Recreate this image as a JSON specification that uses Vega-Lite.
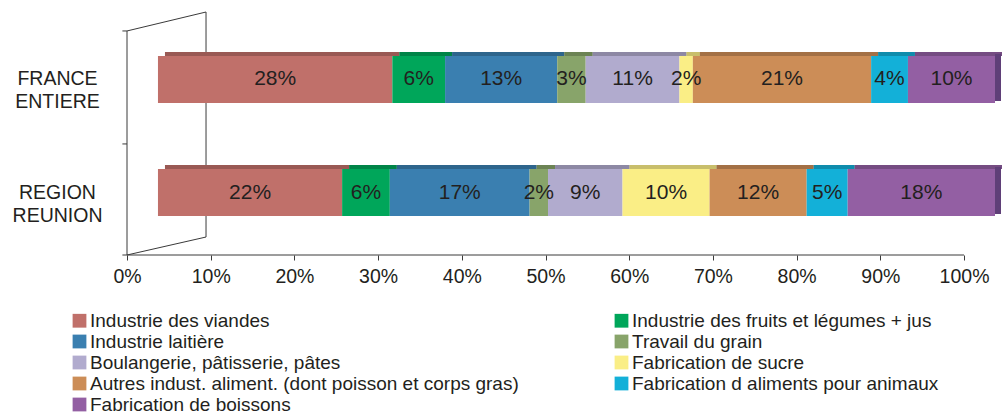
{
  "$schema": "https://vega.github.io/schema/vega-lite/v6.json",
  "width": 868,
  "height": 243,
  "autosize": {"type": "none"},
  "padding": {"left": 127, "top": 12, "right": 8, "bottom": 157},
  "config": {
    "font": "Liberation Sans",
    "view": {"stroke": null},
    "legend": {
      "orient": "none",
      "direction": "horizontal",
      "legendX": -57,
      "legendY": 299,
      "columns": 2,
      "columnPadding": 93,
      "rowPadding": 1,
      "symbolType": "square",
      "symbolSize": 190,
      "symbolStrokeWidth": 0,
      "symbolOpacity": 1,
      "labelFontSize": 19,
      "labelOffset": 1,
      "labelColor": "#231F20",
      "labelLimit": 700,
      "padding": 0
    }
  },
  "datasets": {
    "shares": [
      {"region": "FRANCE ENTIERE", "k": 1, "cat": "Industrie des viandes", "v": 0.280},
      {"region": "FRANCE ENTIERE", "k": 2, "cat": "Industrie des fruits et légumes + jus", "v": 0.063},
      {"region": "FRANCE ENTIERE", "k": 3, "cat": "Industrie laitière", "v": 0.134},
      {"region": "FRANCE ENTIERE", "k": 4, "cat": "Travail du grain", "v": 0.034},
      {"region": "FRANCE ENTIERE", "k": 5, "cat": "Boulangerie, pâtisserie, pâtes", "v": 0.112},
      {"region": "FRANCE ENTIERE", "k": 6, "cat": "Fabrication de sucre", "v": 0.016},
      {"region": "FRANCE ENTIERE", "k": 7, "cat": "Autres indust. aliment. (dont poisson et corps gras)", "v": 0.213},
      {"region": "FRANCE ENTIERE", "k": 8, "cat": "Fabrication d aliments pour animaux", "v": 0.044},
      {"region": "FRANCE ENTIERE", "k": 9, "cat": "Fabrication de boissons", "v": 0.104},
      {"region": "REGION REUNION", "k": 1, "cat": "Industrie des viandes", "v": 0.220},
      {"region": "REGION REUNION", "k": 2, "cat": "Industrie des fruits et légumes + jus", "v": 0.057},
      {"region": "REGION REUNION", "k": 3, "cat": "Industrie laitière", "v": 0.167},
      {"region": "REGION REUNION", "k": 4, "cat": "Travail du grain", "v": 0.022},
      {"region": "REGION REUNION", "k": 5, "cat": "Boulangerie, pâtisserie, pâtes", "v": 0.089},
      {"region": "REGION REUNION", "k": 6, "cat": "Fabrication de sucre", "v": 0.104},
      {"region": "REGION REUNION", "k": 7, "cat": "Autres indust. aliment. (dont poisson et corps gras)", "v": 0.116},
      {"region": "REGION REUNION", "k": 8, "cat": "Fabrication d aliments pour animaux", "v": 0.049},
      {"region": "REGION REUNION", "k": 9, "cat": "Fabrication de boissons", "v": 0.176}
    ],
    "wall": [
      {"x": 0, "y": 0, "x2": 0, "y2": 0.922},
      {"x": 0.0944, "y": 0.074, "x2": 0.0944, "y2": 1},
      {"x": 0, "y": 0.922, "x2": 0.0944, "y2": 1},
      {"x": 0, "y": 0, "x2": 0.0944, "y2": 0.074},
      {"x": 0, "y": 0, "x2": 1, "y2": 0},
      {"x": -0.0055, "y": 0.922, "x2": 0, "y2": 0.922},
      {"x": -0.0055, "y": 0.457, "x2": 0, "y2": 0.457},
      {"x": -0.0055, "y": 0, "x2": 0, "y2": 0}
    ]
  },
  "layer": [
    {
      "data": {"name": "wall"},
      "mark": {"type": "rule", "color": "#3a3a3a", "strokeWidth": 1},
      "encoding": {
        "x": {
          "field": "x", "type": "quantitative",
          "scale": {"domain": [0, 1.037], "nice": false, "zero": false},
          "axis": {
            "values": [0, 0.1, 0.2, 0.3, 0.4, 0.5, 0.6, 0.7, 0.8, 0.9, 1],
            "format": ".0%",
            "domain": false,
            "grid": false,
            "tickSize": 5,
            "tickColor": "#3a3a3a",
            "labelFontSize": 19.5,
            "labelColor": "#231F20",
            "labelPadding": 7,
            "labelFlush": false,
            "labelOverlap": false,
            "title": null
          }
        },
        "x2": {"field": "x2"},
        "y": {"field": "y", "type": "quantitative", "scale": {"domain": [0, 1], "nice": false}, "axis": null},
        "y2": {"field": "y2"}
      }
    },
    {
      "data": {"name": "shares"},
      "transform": [
        {"stack": "v", "groupby": ["region"], "sort": [{"field": "k"}], "as": ["v0", "v1"]},
        {"calculate": "(datum.v0 + datum.v1) / 2", "as": "mid"}
      ],
      "encoding": {
        "y": {
          "field": "region", "type": "nominal",
          "scale": {"domain": ["FRANCE ENTIERE", "REGION REUNION"], "paddingInner": 0.584, "paddingOuter": 0.367, "align": 0.53},
          "axis": {
            "title": null,
            "domain": false,
            "ticks": false,
            "tickSize": 0,
            "labelPadding": 70,
            "labelAlign": "center",
            "labelBaseline": "middle",
            "labelFontSize": 19.5,
            "labelLineHeight": 23,
            "labelColor": "#231F20",
            "labelExpr": "split(datum.label, ' ')"
          }
        }
      },
      "layer": [
        {
          "mark": {"type": "bar", "height": 4, "yOffset": -25.5, "xOffset": 7, "x2Offset": 7},
          "encoding": {
            "x": {"field": "v0", "type": "quantitative", "scale": {"domain": [-0.037, 1], "nice": false, "zero": false}, "axis": null},
            "x2": {"field": "v1"},
            "color": {
              "field": "cat", "type": "nominal",
              "scale": {
                "domain": [
                  "Industrie des viandes",
                  "Industrie des fruits et légumes + jus",
                  "Industrie laitière",
                  "Travail du grain",
                  "Boulangerie, pâtisserie, pâtes",
                  "Fabrication de sucre",
                  "Autres indust. aliment. (dont poisson et corps gras)",
                  "Fabrication d aliments pour animaux",
                  "Fabrication de boissons"
                ],
                "range": ["#C0706A", "#00A65A", "#3A7FB0", "#88A46A", "#B1ABCE", "#FAEE86", "#CC8D57", "#13B0D8", "#935FA3"]
              },
              "legend": {"title": null}
            }
          }
        },
        {
          "mark": {"type": "bar", "height": 4, "yOffset": -25.5, "xOffset": 7, "x2Offset": 7, "opacity": 0.2},
          "encoding": {
            "x": {"field": "v0", "type": "quantitative", "axis": null},
            "x2": {"field": "v1"},
            "color": {"value": "black"}
          }
        },
        {
          "transform": [{"filter": "datum.k == 9"}],
          "mark": {"type": "tick", "orient": "vertical", "thickness": 6, "size": 47, "xOffset": 3, "yOffset": -2, "opacity": 1},
          "encoding": {
            "x": {"field": "v1", "type": "quantitative", "axis": null},
            "color": {"value": "#5f3f78"}
          }
        },
        {
          "mark": {"type": "bar"},
          "encoding": {
            "x": {"field": "v0", "type": "quantitative", "axis": null},
            "x2": {"field": "v1"},
            "color": {"field": "cat", "type": "nominal", "legend": {"title": null}}
          }
        },
        {
          "mark": {"type": "text", "fontSize": 21, "baseline": "middle", "align": "center"},
          "encoding": {
            "x": {"field": "mid", "type": "quantitative", "axis": null},
            "text": {"field": "v", "type": "quantitative", "format": ".0%"},
            "color": {"value": "#231F20"}
          }
        }
      ]
    }
  ],
  "resolve": {"scale": {"x": "independent", "y": "independent"}}
}
